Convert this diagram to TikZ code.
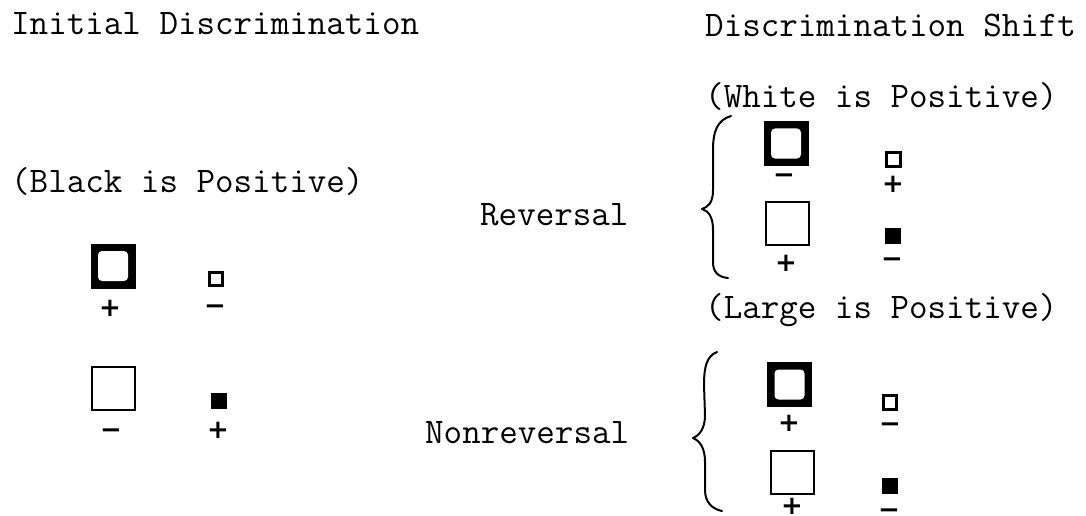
\documentclass[tikz,border=0pt]{standalone}
\usepackage{fontspec}
\newfontfamily\signfont{DejaVu Sans}
\tikzset{
  lbl/.style={anchor=base west, inner sep=0pt, font=\ttfamily\fontsize{36}{40}\selectfont\addfontfeatures{FakeBold=1.2}},
  sgn/.style={inner sep=0pt, anchor=base, yshift=-9.5pt, font=\signfont\bfseries\fontsize{26}{28}\selectfont},
  bigframe/.style={rectangle, inner sep=0pt, minimum size=45pt, fill=black,
    path picture={\fill[white, rounded corners=4pt]
      ([xshift=7.5pt,yshift=7.5pt]path picture bounding box.south west) rectangle
      ([xshift=-7.5pt,yshift=-7.5pt]path picture bounding box.north east);}},
  bigopen/.style={rectangle, inner sep=0pt, minimum size=43pt, draw=black, line width=2pt},
  smallopen/.style={rectangle, inner sep=0pt, minimum size=13.5pt, draw=black, line width=2.7pt},
  smallfill/.style={rectangle, inner sep=0pt, minimum size=16pt, fill=black},
  brace/.style={line width=2pt, line cap=round, line join=round}
}
\begin{document}
\begin{tikzpicture}[x=1pt,y=-1pt]
\fill[white] (0,0) rectangle (1086,516);
\useasboundingbox (0,0) rectangle (1086,516);

% titles and labels
\node[lbl] (t1) at (11,35) {Initial Discrimination};
\node[lbl] (t2) at (705,37) {Discrimination Shift};
\node[lbl] (white) at (705,107) {(White is Positive)};
\node[lbl] (black) at (11,192) {(Black is Positive)};
\node[lbl] (rev) at (480,225) {Reversal};
\node[lbl] (large) at (705,318) {(Large is Positive)};
\node[lbl] (nonrev) at (425,443) {Nonreversal};

% initial discrimination
\node[bigframe] (a1) at (113,266) {};
\node[sgn] (a1s) at (110,307) {+};
\node[smallopen] (a2) at (216,279) {};
\node[sgn] (a2s) at (215,305) {−};
\node[bigopen] (a3) at (113,388.5) {};
\node[sgn] (a3s) at (111,429) {−};
\node[smallfill] (a4) at (219,400.5) {};
\node[sgn] (a4s) at (218,429) {+};

% reversal
\node[bigframe] (b1) at (786,143.5) {};
\node[sgn] (b1s) at (784,174) {−};
\node[smallopen] (b2) at (893.5,159.5) {};
\node[sgn] (b2s) at (893,183) {+};
\node[bigopen] (b3) at (787.5,223) {};
\node[sgn] (b3s) at (786,262) {+};
\node[smallfill] (b4) at (892.5,236) {};
\node[sgn] (b4s) at (892,258) {−};

% nonreversal
\node[bigframe] (c1) at (789.5,384.5) {};
\node[sgn] (c1s) at (789,422) {+};
\node[smallopen] (c2) at (890,402.5) {};
\node[sgn] (c2s) at (890,423) {−};
\node[bigopen] (c3) at (792,472) {};
\node[sgn] (c3s) at (792,505) {+};
\node[smallfill] (c4) at (890,485.5) {};
\node[sgn] (c4s) at (889,509) {−};

% braces
\draw[brace] (731,116) .. controls (718,120) and (713,130) .. (713,150) -- (713,190)
  .. controls (713,203) and (708,207) .. (702,209)
  .. controls (708,211) and (713,216) .. (713,230) -- (713,262)
  .. controls (713,272) and (718,277) .. (728,278);
\draw[brace] (717,352) .. controls (707,356) and (704,366) .. (704,385) -- (705,415)
  .. controls (705,428) and (700,435) .. (693,438)
  .. controls (700,441) and (705,448) .. (705,462) -- (705,490)
  .. controls (705,502) and (712,509) .. (722,511);
\end{tikzpicture}
\end{document}
